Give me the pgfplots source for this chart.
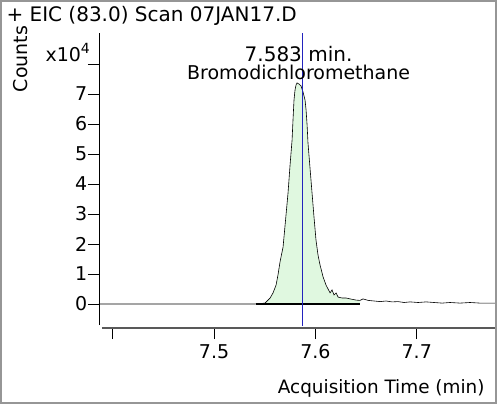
\documentclass[border=0pt]{standalone}
\usepackage{fontspec}
\setmainfont{DejaVu Sans}
\usepackage{pgfplots}
\pgfplotsset{compat=1.18}
\definecolor{peakfill}{RGB}{224,248,224}
\definecolor{rtblue}{RGB}{35,35,190}
\definecolor{framegray}{RGB}{150,150,150}
\begin{document}
\begin{tikzpicture}
\begin{axis}[
  scale only axis, width=397pt, height=295pt,
  xmin=7.3865, xmax=7.7782, ymin=-0.8, ymax=9.033,
  axis x line*=bottom, axis y line*=left,
  x axis line style={-, draw=gray!70!black, line width=1.2pt, shorten <=3pt},
  y axis line style={-, line width=0.8pt, shorten <=3pt},
  tick align=outside, major tick length=11pt,
  xtick={7.4,7.5,7.6,7.7}, xticklabels={,7.5,7.6,7.7},
  ytick={0,...,8}, yticklabels={0,1,2,3,4,5,6,7,},
  tick style={black, line width=0.8pt},
  xticklabel style={yshift=-2pt},
  yticklabel style={inner xsep=0.5pt},
  font=\fontsize{19}{22}\selectfont,
  /pgf/number format/assume math mode=true,
  clip=false,
  title={+ EIC (83.0) Scan 07JAN17.D},
  title style={at={(rel axis cs:0,0)}, anchor=base west, xshift=-96pt, yshift=300pt,
    font=\fontsize{20}{23}\selectfont},
  xlabel={Acquisition Time (min)},
  xlabel style={at={(rel axis cs:1,0)}, anchor=base east, xshift=-8pt, yshift=-65pt,
    font=\fontsize{18.4}{22}\selectfont},
  ylabel={Counts},
  ylabel style={at={(rel axis cs:-0.1965,0.912)}, anchor=center},
]
\coordinate (O) at (rel axis cs:0,0);
% integrated peak area
\addplot[fill=peakfill, draw=none] coordinates {
  (7.5414,0) (7.5503,0.03) (7.5553,0.2) (7.5582,0.37) (7.5612,0.63)
  (7.5631,0.97) (7.5651,1.4) (7.5681,1.9) (7.5701,2.63) (7.5730,3.7)
  (7.5750,4.63) (7.5770,5.47) (7.5779,6.13) (7.5789,6.8) (7.5799,7.13)
  (7.5809,7.3) (7.5819,7.37) (7.5839,7.33) (7.5858,7.27) (7.5878,7.07)
  (7.5898,6.8) (7.5908,6.47) (7.5918,5.97) (7.5927,5.37) (7.5947,4.53)
  (7.5967,3.7) (7.5987,2.87) (7.6006,2.13) (7.6026,1.63) (7.6046,1.3)
  (7.6076,0.9) (7.6105,0.63) (7.6125,0.5) (7.6145,0.37) (7.6164,0.47)
  (7.6184,0.3) (7.6204,0.37) (7.6224,0.23) (7.6263,0.2) (7.6303,0.2)
  (7.6342,0.17) (7.6401,0.13) (7.6441,0.12) (7.6441,0)
} \closedcycle;
% chromatogram
\addplot[black, line width=0.6pt] coordinates {
  (7.3865,0) (7.5405,0) (7.5503,0.03) (7.5553,0.2) (7.5582,0.37) (7.5612,0.63)
  (7.5631,0.97) (7.5651,1.4) (7.5681,1.9) (7.5701,2.63) (7.5730,3.7)
  (7.5750,4.63) (7.5770,5.47) (7.5779,6.13) (7.5789,6.8) (7.5799,7.13)
  (7.5809,7.3) (7.5819,7.37) (7.5839,7.33) (7.5858,7.27) (7.5878,7.07)
  (7.5898,6.8) (7.5908,6.47) (7.5918,5.97) (7.5927,5.37) (7.5947,4.53)
  (7.5967,3.7) (7.5987,2.87) (7.6006,2.13) (7.6026,1.63) (7.6046,1.3)
  (7.6076,0.9) (7.6105,0.63) (7.6125,0.5) (7.6145,0.37) (7.6164,0.47)
  (7.6184,0.3) (7.6204,0.37) (7.6224,0.23) (7.6263,0.2) (7.6303,0.2)
  (7.6342,0.17) (7.6401,0.13) (7.6441,0.12) (7.6470,0.17) (7.6520,0.12)
  (7.6579,0.1) (7.6638,0.08) (7.6697,0.1) (7.6756,0.07) (7.6816,0.08)
  (7.6875,0.05) (7.6934,0.07) (7.7013,0.05) (7.7092,0.07) (7.7171,0.05)
  (7.7250,0.03) (7.7329,0.05) (7.7427,0.03) (7.7526,0.05) (7.7625,0.03)
  (7.7782,0.03)
};
% integration baseline
\addplot[black, line width=2.5pt] coordinates {(7.5414,0) (7.6441,0)};
% retention time marker
\addplot[rtblue, line width=0.8pt] coordinates {(7.5868,-0.73) (7.5868,9.033)};
\node[anchor=base west] at ([xshift=-57pt,yshift=266pt]O)
  {x10\raisebox{8.5pt}{\fontsize{14}{14}\selectfont 4}};
\node[anchor=base, font=\fontsize{20}{23}\selectfont] at (axis cs:7.5834,8.07) {7.583 min.};
\node[anchor=base] at (axis cs:7.5834,7.47) {Bromodichloromethane};
\end{axis}
\draw[framegray, line width=2pt] ([xshift=-98pt,yshift=-75pt]O) rectangle ([xshift=397pt,yshift=327pt]O);
\pgfresetboundingbox
\useasboundingbox ([xshift=-99pt,yshift=-76pt]O) rectangle ([xshift=398pt,yshift=328pt]O);
\end{tikzpicture}
\end{document}
